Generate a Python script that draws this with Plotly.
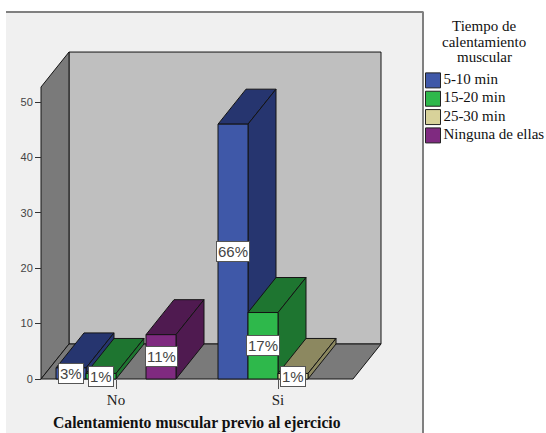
import plotly.graph_objects as go

# Survey counts per warm-up answer and warm-up duration
answers = ["No", "Si"]
answer_slots = [0.0, 5.4]
durations = ["5-10 min", "15-20 min", "25-30 min", "Ninguna de ellas"]
counts = {
    "No": [2, 1, None, 8],
    "Si": [46, 12, 1, None],
}
y_ticks = [0, 10, 20, 30, 40, 50]
legend_title = ["Tiempo de", "calentamiento", "muscular"]
x_title = "Calentamiento muscular previo al ejercicio"

# Front, top and side shades for each duration
front = ["#3F58A8", "#2EB84B", "#D8D29A", "#7F2A80"]
shade = ["#26356F", "#1E7530", "#8C8860", "#4F1A50"]

# Oblique projection of the box depth, in axis units
DX, DY = 28 / 30, 35 / 5.54
X_RANGE = [-116 / 30, 430 / 30]
Y_RANGE = [-54 / 5.54, 379 / 5.54]
WALL_LEFT, WALL_RIGHT, WALL_TOP = -2.5, 7.9, 52.7
SERIF = "Liberation Serif"
SANS = "Liberation Sans"
EDGE = "#141414"

fig = go.Figure()


def poly(xs, ys, fill, edge=EDGE):
    fig.add_trace(go.Scatter(
        x=xs + xs[:1], y=ys + ys[:1], mode="lines", fill="toself",
        fillcolor=fill, line=dict(color=edge, width=1),
        hoverinfo="skip", showlegend=False,
    ))


# Box: back wall, left wall, floor
poly([WALL_LEFT + DX, WALL_RIGHT + DX, WALL_RIGHT + DX, WALL_LEFT + DX],
     [DY, DY, WALL_TOP + DY, WALL_TOP + DY], "#BFBFBF")
poly([WALL_LEFT, WALL_LEFT + DX, WALL_LEFT + DX, WALL_LEFT],
     [WALL_TOP, WALL_TOP + DY, DY, 0], "#7A7A7A")
poly([WALL_LEFT, WALL_LEFT + DX, WALL_RIGHT + DX, WALL_RIGHT],
     [0, DY, DY, 0], "#7A7A7A")

# Bars, painted left to right so nearer faces overlap correctly
total = sum(v for a in answers for v in counts[a] if v is not None)
annotations = []
for answer, slot in zip(answers, answer_slots):
    for i, value in enumerate(counts[answer]):
        if value is None:
            continue
        x0 = slot - 2 + i
        x1 = x0 + 1
        poly([x0, x0 + DX, x1 + DX, x1],
             [value, value + DY, value + DY, value], shade[i])
        poly([x1, x1 + DX, x1 + DX, x1],
             [0, DY, value + DY, value], shade[i])
        poly([x0, x1, x1, x0], [0, 0, value, value], front[i])
        annotations.append(dict(
            x=(x0 + x1) / 2, y=value / 2, xref="x", yref="y",
            text=f"{round(100 * value / total)}%", showarrow=False,
            font=dict(family=SANS, size=15, color="#444444"),
            bgcolor="white", bordercolor="#555555", borderwidth=1, borderpad=1,
        ))

# Legend keys with their labels
for i, name in enumerate(durations):
    fig.add_trace(go.Scatter(
        x=[10.567], y=[53.9 - i * 3.31], mode="markers+text",
        marker=dict(symbol="square", size=15, color=front[i],
                    line=dict(color="#222222", width=1)),
        text=[name], textposition="middle right",
        textfont=dict(family=SERIF, size=15, color="#111111"),
        hoverinfo="skip", showlegend=False, cliponaxis=False,
    ))

# Legend heading, one annotation per line
for i, line in enumerate(legend_title):
    annotations.append(dict(
        x=12.27, y=63.7 - i * 2.8, xref="x", yref="y", text=line,
        showarrow=False, font=dict(family=SERIF, size=15, color="#111111"),
    ))

# Horizontal axis title
annotations.append(dict(
    x=2.7, y=-8, xref="x", yref="y", text=f"<b>{x_title}</b>", showarrow=False,
    font=dict(family=SERIF, size=15.7, color="#111111"),
))

fig.update_layout(
    width=546, height=433, autosize=False,
    margin=dict(l=0, r=0, t=0, b=0),
    paper_bgcolor="white", plot_bgcolor="rgba(0,0,0,0)",
    showlegend=False, annotations=annotations,
    xaxis=dict(
        range=X_RANGE, domain=[0, 1], anchor="free", position=54 / 433,
        tickmode="array", tickvals=answer_slots, ticktext=answers,
        ticks="outside", ticklen=9, tickcolor="#555555", tickwidth=1,
        ticklabelstandoff=-2,
        tickfont=dict(family=SERIF, size=15, color="#222222"),
        showgrid=False, zeroline=False, showline=False, fixedrange=True,
    ),
    yaxis=dict(
        range=Y_RANGE, domain=[0, 1], anchor="free", position=41 / 546,
        tickmode="array", tickvals=y_ticks,
        ticks="outside", ticklen=6, tickcolor="#333333", tickwidth=1,
        tickfont=dict(family=SANS, size=11, color="#444444"),
        showgrid=False, zeroline=False, showline=False, fixedrange=True,
    ),
    shapes=[
        dict(type="rect", layer="below", xref="paper", yref="paper",
             x0=6 / 546, x1=423 / 546, y0=0, y1=421 / 433,
             fillcolor="#F0F0F0", line=dict(width=0)),
        dict(type="line", layer="below", xref="paper", yref="paper",
             x0=6 / 546, x1=423.5 / 546, y0=421 / 433, y1=421 / 433,
             line=dict(color="#808080", width=2)),
        dict(type="line", layer="below", xref="paper", yref="paper",
             x0=423 / 546, x1=423 / 546, y0=0, y1=421 / 433,
             line=dict(color="#808080", width=2)),
    ],
)

fig.write_html("out.html", config={"displayModeBar": False})
